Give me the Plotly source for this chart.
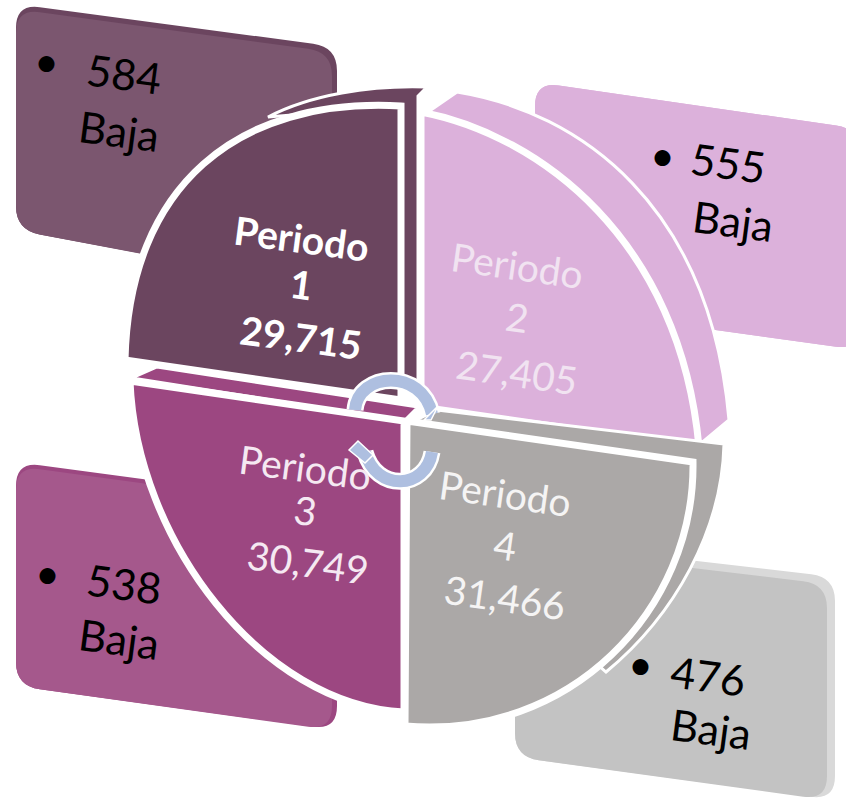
import plotly.graph_objects as go

# ---- data ----
periodos = ["Periodo", "Periodo", "Periodo", "Periodo"]
numeros = [1, 2, 3, 4]
totales = [29715, 27405, 30749, 31466]
bajas = [584, 555, 538, 476]
etiqueta_baja = "Baja"

# ---- styles ----
FONT = "Lato"
COL_FACE = ["#6b455f", "#dcb1db", "#9c4781", "#aba8a7"]
COL_PANEL = ["#7b566f", "#dcb1db", "#a5588c", "#c3c3c3"]
COL_PANEL_RIM = ["#6b455f", "#dcb1db", "#9c4781", "#d9d9d9"]
COL_TEXT = ["#ffffff", "#f1e3f1", "#f5e9f2", "#f5f4f4"]
ARROW = "#aebfe0"

# ---- diagram geometry (pixel space of the 846x799 page) ----
panel_corners = [
    [(16, 4), (337, 47), (337, 290), (16, 230)],
    [(535, 82), (860, 129), (860, 350), (535, 305)],
    [(16, 462), (337, 505), (337, 730), (16, 686)],
    [(515, 540), (835, 577), (835, 800), (515, 757)],
]
panel_inset = [(5, 5), (0, 0), (4, 5), (7, 8)]  # top, right thickness of the panel's edge
rim_paths = [
    "M268,117 C310,95 370,85 427,87 L418,96 L418,386 L401,386 L401,106 Z",
    "M428,112 L457,92 C580,112 710,205 729,420 L699,445 Z",
    "M132,378 L157,367 L418,407 L404,421 Z",
    "M408,424 L437,410 L724,444 C722,530 675,615 606,672 L570,640 L660,470 Z",
]
face_paths = [
    "M125,360 C129,185 238,97 401,106 L401,400 Z",
    "M421,112 C540,135 680,240 699,447 L421,407 Z",
    "M130,381 L404,421 L404,712 C262,705 136,540 130,381 Z",
    "M407,421 L693,462 C695,610 570,740 405,726 Z",
]
# centres of the three text lines of each quadrant
label_pos = [
    [(301, 238), (301, 284), (301, 337)],
    [(517, 265), (517, 317), (517, 372)],
    [(305, 467), (305, 510), (308, 562)],
    [(505, 493), (505, 545), (505, 597)],
]
label_angle = [7.5, 8, 7.5, 8]
baja_pos = [
    [(124, 73), (119, 130)],
    [(728, 162), (733, 220)],
    [(124, 583), (119, 638)],
    [(708, 675), (711, 728)],
]
bullet_pos = [(46, 60), (662, 154), (47, 572), (640, 663)]
# drawing order: period 1, 2, 4, 3
order = [0, 1, 3, 2]


def rounded(corners, r=24):
    """Closed path through four corners with rounded joins."""
    n = len(corners)
    path = ""
    for i in range(n):
        p0, p1, p2 = corners[i - 1], corners[i], corners[(i + 1) % n]

        def toward(a, b):
            dx, dy = b[0] - a[0], b[1] - a[1]
            d = (dx * dx + dy * dy) ** 0.5
            return a[0] + dx / d * r, a[1] + dy / d * r
        s, e = toward(p1, p0), toward(p1, p2)
        path += ("M" if i == 0 else "L") + f"{s[0]:.1f},{s[1]:.1f} "
        path += f"Q{p1[0]},{p1[1]} {e[0]:.1f},{e[1]:.1f} "
    return path + "Z"


shapes = []
for i in range(4):
    c = panel_corners[i]
    t, r = panel_inset[i]
    inner = [(c[0][0], c[0][1] + t), (c[1][0] - r, c[1][1] + t), (c[2][0] - r, c[2][1] - 0), c[3]]
    shapes.append(dict(type="path", path=rounded(c), fillcolor=COL_PANEL_RIM[i], line=dict(width=0)))
    shapes.append(dict(type="path", path=rounded(inner), fillcolor=COL_PANEL[i], line=dict(width=0)))
for i in order:
    shapes.append(dict(type="path", path=rim_paths[i], fillcolor=COL_FACE[i],
                       line=dict(color="#ffffff", width=3)))
    shapes.append(dict(type="path", path=face_paths[i], fillcolor=COL_FACE[i],
                       line=dict(color="#ffffff", width=7)))

# circular arrows in the middle
arc_top = "M355,410 C358,372 422,368 432,414"
arc_bot = "M365,452 C376,492 426,490 432,452"
for arc in (arc_top, arc_bot):
    shapes.append(dict(type="path", path=arc, line=dict(color="#ffffff", width=17)))
    shapes.append(dict(type="path", path=arc, line=dict(color=ARROW, width=12)))
shapes.append(dict(type="path", path="M349,450 L358,441 L373,455 L365,463 Z", fillcolor=ARROW,
                   line=dict(color="#ffffff", width=1.5)))
shapes.append(dict(type="path", path="M424,420 L438,406 L431,420 Z", fillcolor=ARROW,
                   line=dict(color="#ffffff", width=1.5)))


def note(pos, text, size, color, angle=0, weight="normal"):
    return dict(x=pos[0], y=pos[1], xref="x", yref="y", showarrow=False, text=text, textangle=angle,
                font=dict(family=FONT, size=size, color=color, weight=weight))


annotations = []
for i in range(4):
    lines = [periodos[i], str(numeros[i]), f"{totales[i]:,}"]
    for pos, line in zip(label_pos[i], lines):
        annotations.append(note(pos, line, 39, COL_TEXT[i], label_angle[i], "bold" if i == 0 else "normal"))
    for pos, line in zip(baja_pos[i], [str(bajas[i]), etiqueta_baja]):
        annotations.append(note(pos, line, 43, "#000000", 7.5))
    annotations.append(note(bullet_pos[i], "•", 43, "#000000"))

fig = go.Figure()
fig.update_layout(
    width=846, height=799, margin=dict(l=0, r=0, t=0, b=0),
    paper_bgcolor="#ffffff", plot_bgcolor="#ffffff", showlegend=False,
    xaxis=dict(range=[0, 846], visible=False, fixedrange=True),
    yaxis=dict(range=[799, 0], visible=False, fixedrange=True),
    shapes=shapes, annotations=annotations,
)
fig.write_html("out.html", config={"displayModeBar": False},
               post_script="document.body.style.margin='0';")
